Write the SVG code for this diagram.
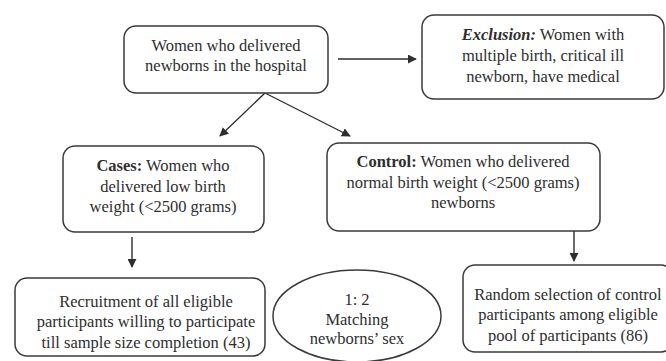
<svg xmlns="http://www.w3.org/2000/svg" width="666" height="361" viewBox="0 0 666 361">
<style>
.box{fill:#fff;stroke:#3a3a3a;stroke-width:1.5}
.t{font-family:'Liberation Serif','Times New Roman',serif;font-size:16.5px;fill:#2e2e2e;text-anchor:middle}
.b{font-weight:bold}
.c{stroke:#2e2e2e;stroke-width:1.4;fill:none;marker-end:url(#ah)}
</style>
<defs>
<marker id="ah" viewBox="0 0 10 10" refX="9" refY="5" markerWidth="9" markerHeight="9" markerUnits="userSpaceOnUse" orient="auto">
<path d="M0,0 L10,5 L0,10 z" fill="#2e2e2e"/>
</marker>
</defs>
<rect width="666" height="361" fill="#fff"/>
<g id="connectors">
<line class="c" x1="265" y1="93" x2="220" y2="136"/>
<line class="c" x1="265" y1="93" x2="350" y2="136"/>
<line class="c" x1="338" y1="59" x2="416" y2="59"/>
<line class="c" x1="132" y1="237" x2="132" y2="267"/>
<line class="c" x1="574" y1="231" x2="574" y2="261"/>
</g>
<g id="n1">
<rect class="box" x="124" y="26" width="204" height="67" rx="12"/>
<text class="t" x="226" y="51">Women who delivered</text>
<text class="t" x="226" y="71">newborns in the hospital</text>
</g>
<g id="n2">
<rect class="box" x="422" y="15" width="242" height="84" rx="12"/>
<text class="t" x="543" y="40"><tspan class="b" font-style="italic">Exclusion:</tspan> Women with</text>
<text class="t" x="543" y="61">multiple birth, critical ill</text>
<text class="t" x="543" y="82">newborn, have medical</text>
</g>
<g id="n3">
<rect class="box" x="63" y="146" width="201" height="86" rx="12"/>
<text class="t" x="163" y="171"><tspan class="b">Cases:</tspan> Women who</text>
<text class="t" x="163" y="192">delivered low birth</text>
<text class="t" x="163" y="212">weight (&lt;2500 grams)</text>
</g>
<g id="n4">
<rect class="box" x="327" y="143" width="273" height="88" rx="12"/>
<text class="t" x="463" y="167"><tspan class="b">Control:</tspan> Women who delivered</text>
<text class="t" x="463" y="188">normal birth weight (&lt;2500 grams)</text>
<text class="t" x="463" y="208">newborns</text>
</g>
<g id="n5">
<rect class="box" x="15" y="278" width="250" height="78" rx="12"/>
<text class="t" x="146" y="307">Recruitment of all eligible</text>
<text class="t" x="146" y="327">participants willing to participate</text>
<text class="t" x="146" y="348">till sample size completion (43)</text>
</g>
<g id="n6">
<ellipse class="box" cx="357" cy="316" rx="84" ry="46"/>
<text class="t" x="357" y="305">1: 2</text>
<text class="t" x="357" y="325">Matching</text>
<text class="t" x="357" y="344">newborns’ sex</text>
</g>
<g id="n7">
<rect class="box" x="463" y="265" width="210" height="87" rx="12"/>
<text class="t" x="568" y="300">Random selection of control</text>
<text class="t" x="568" y="320">participants among eligible</text>
<text class="t" x="568" y="341">pool of participants (86)</text>
</g>
</svg>
